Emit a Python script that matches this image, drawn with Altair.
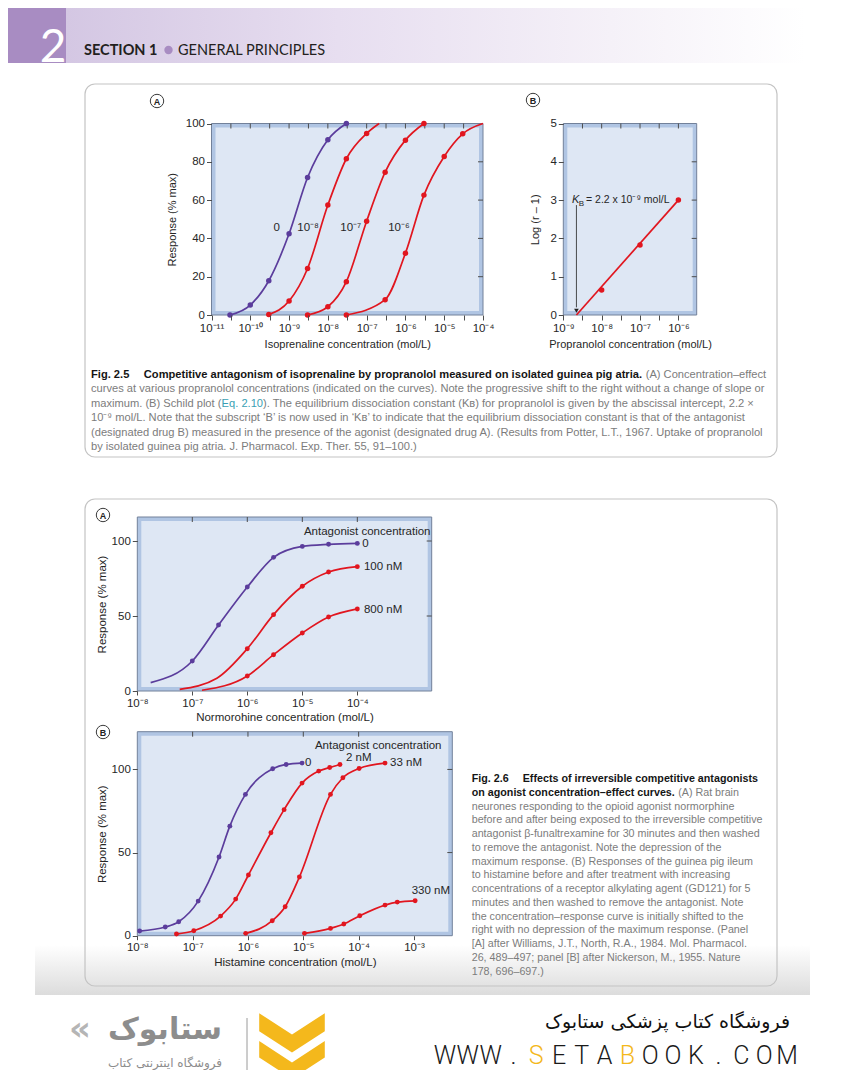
import math
import altair as alt
import pandas as pd

# ------------------------------------------------------------------ canvas
W, H = 828, 1062          # whole drawing (page minus 8px body margin)
OX, OY = 8, 8


def cx(p):
    return round(p - OX, 1)


def cy(p):
    return round(p - OY, 1)


FONT = "Liberation Sans"
PURPLE = "#5b3d9c"
RED = "#e1161f"
BORDER = "#b0c5e3"
FILL = "#dee7f4"
FRAME = "#72819a"
AXC = "#4d4d4d"
TXT = "#262626"
GRAY = "#7c7c7c"
BOLD = "#151515"
TEAL = "#3a9fb4"
GOLD = "#f4b81c"

ONE = pd.DataFrame({"k": [0]})

# ------------------------------------------------------------------ data
# Fig 2.5A  isoprenaline concentration (mol/L) vs response (% max)
f25a_conc_0 = [3e-11, 1e-10, 3e-10, 1e-9, 3e-9, 1e-8, 3e-8]
f25a_resp_0 = [0, 5.2, 17.9, 42.4, 71.8, 91.5, 100]
f25a_conc_8 = [3e-10, 1e-9, 3e-9, 1e-8, 3e-8, 1e-7]
f25a_resp_8 = [0.3, 7.3, 24.3, 57.4, 81.6, 94.8]
f25a_conc_7 = [3e-9, 1e-8, 3e-8, 1e-7, 3e-7, 1e-6, 3e-6]
f25a_resp_7 = [0, 4.3, 17.4, 49.0, 74.6, 91.3, 100]
f25a_conc_6 = [3e-8, 3e-7, 1e-6, 3e-6, 1e-5, 3e-5]
f25a_resp_6 = [0, 8.0, 32.3, 62.6, 82.8, 94.6]
f25a_curve_end_8 = ([2.1e-7], [100])
f25a_curve_end_6 = ([1e-4], [100])
f25a_label_text = ["0", "10⁻⁸", "10⁻⁷", "10⁻⁶"]
f25a_label_conc = [4.8e-10, 3.1e-9, 3.9e-8, 6.8e-7]
f25a_label_resp = [45.2, 45.2, 45.2, 45.2]

# Fig 2.5B  Schild plot
f25b_conc = [1e-8, 1e-7, 1e-6]
f25b_logr = [0.65, 1.83, 3.0]
f25b_kb = 2.2e-9
f25b_fit_conc = [2.2e-9, 1e-6]
f25b_fit_logr = [0, 3.0]

# Fig 2.6A  normorphine
f26a_conc_0 = [1e-7, 3e-7, 1e-6, 3e-6, 1e-5, 3e-5, 1e-4]
f26a_resp_0 = [20, 44, 69.3, 89.1, 96.4, 97.8, 98.4]
f26a_start_0 = ([1.75e-8], [5.6])
f26a_conc_100 = [1e-6, 3e-6, 1e-5, 3e-5, 1e-4]
f26a_resp_100 = [28.2, 50.9, 69.8, 79.3, 82.9]
f26a_start_100 = ([5.9e-8, 2.8e-7], [1.1, 8.5])
f26a_conc_800 = [1e-6, 3e-6, 1e-5, 3e-5, 1e-4]
f26a_resp_800 = [10, 24.2, 38.7, 49.3, 54.7]
f26a_start_800 = ([1.5e-7], [0.5])
f26a_label_text = ["Antagonist concentration", "0", "100 nM", "800 nM"]
f26a_label_conc = [1.07e-5, 1.23e-4, 1.32e-4, 1.32e-4]
f26a_label_resp = [106, 98.2, 82.7, 54.2]

# Fig 2.6B  histamine
f26b_conc_0 = [1.1e-8, 3.2e-8, 5.6e-8, 1.26e-7, 3e-7, 4.7e-7, 9e-7, 2.8e-6, 4.9e-6, 9.5e-6]
f26b_resp_0 = [2.8, 5.2, 8.4, 20.8, 47.3, 65.9, 85, 100.4, 103, 103.8]
f26b_conc_2 = [5.1e-8, 1.05e-7, 3.2e-7, 6e-7, 1.02e-6, 2.6e-6, 4.5e-6, 9.5e-6, 1.9e-5, 3e-5, 4.6e-5]
f26b_resp_2 = [1.0, 3.0, 11.8, 22, 36.5, 61.9, 75.8, 91.8, 99, 101.2, 103]
f26b_conc_33 = [9.1e-7, 2.75e-6, 4.7e-6, 8.5e-6, 3.1e-5, 5.2e-5, 1.02e-4, 3e-4]
f26b_resp_33 = [1.4, 9.0, 17.4, 35.3, 85, 95, 100.6, 103.8]
f26b_conc_330 = [1.05e-5, 3.1e-5, 5.4e-5, 1.05e-4, 3e-4, 5e-4, 1.05e-3]
f26b_resp_330 = [1.4, 4.4, 7.0, 12.0, 18.4, 20.2, 21.0]
f26b_label_text = ["Antagonist concentration", "0", "2 nM", "33 nM", "330 nM"]
f26b_label_conc = [1.62e-5, 1.07e-5, 5.9e-5, 3.7e-4, 9.1e-4]
f26b_label_resp = [114.3, 103.8, 106.9, 103.8, 27.1]

# tick values / tick labels
f25a_xticks = [1e-11, 3.16e-11, 1e-10, 3.16e-10, 1e-9, 3.16e-9, 1e-8, 3.16e-8, 1e-7,
               3.16e-7, 1e-6, 3.16e-6, 1e-5, 3.16e-5, 1e-4]
f25a_xlabels_at = [1e-11, 1e-10, 1e-9, 1e-8, 1e-7, 1e-6, 1e-5, 1e-4]
f25a_xlabels = ["10⁻¹¹", "10⁻¹⁰", "10⁻⁹", "10⁻⁸", "10⁻⁷", "10⁻⁶", "10⁻⁵", "10⁻⁴"]
f25a_yticks = [0, 20, 40, 60, 80, 100]
f25b_xticks = [1e-9, 3.16e-9, 1e-8, 3.16e-8, 1e-7, 3.16e-7, 1e-6]
f25b_xlabels_at = [1e-9, 1e-8, 1e-7, 1e-6]
f25b_xlabels = ["10⁻⁹", "10⁻⁸", "10⁻⁷", "10⁻⁶"]
f25b_yticks = [0, 1, 2, 3, 4, 5]
f26a_xticks = [1e-8, 1e-7, 1e-6, 1e-5, 1e-4]
f26a_xlabels = ["10⁻⁸", "10⁻⁷", "10⁻⁶", "10⁻⁵", "10⁻⁴"]
f26b_xticks = [1e-8, 1e-7, 1e-6, 1e-5, 1e-4, 1e-3]
f26b_xlabels = ["10⁻⁸", "10⁻⁷", "10⁻⁶", "10⁻⁵", "10⁻⁴", "10⁻³"]
f26_yticks = [0, 50, 100]

# ------------------------------------------------------------------ text metrics (Arial/Liberation)
_REG = dict(zip("ABCDEFGHIJKLMNOPQRSTUVWXYZ",
                [667, 667, 722, 722, 667, 611, 778, 722, 278, 500, 667, 556, 833, 722, 778,
                 667, 778, 722, 667, 611, 722, 667, 944, 667, 667, 611]))
_REG.update(zip("abcdefghijklmnopqrstuvwxyz",
                [556, 556, 500, 556, 556, 278, 556, 556, 222, 222, 500, 222, 833, 556, 556,
                 556, 556, 333, 500, 278, 556, 500, 722, 500, 500, 500]))
_BLD = dict(zip("ABCDEFGHIJKLMNOPQRSTUVWXYZ",
                [722, 722, 722, 722, 667, 611, 778, 722, 278, 556, 722, 611, 833, 722, 778,
                 667, 778, 722, 667, 611, 722, 667, 944, 667, 667, 611]))
_BLD.update(zip("abcdefghijklmnopqrstuvwxyz",
                [556, 611, 556, 611, 556, 333, 611, 611, 278, 278, 556, 278, 889, 611, 611,
                 611, 611, 389, 556, 333, 611, 556, 778, 556, 556, 500]))
_PUN = {" ": 278, "(": 333, ")": 333, ".": 278, ",": 278, "-": 333, ":": 278, ";": 278,
        "–": 556, "'": 191, "‘": 222, "’": 222, "[": 278, "]": 278, "×": 584, "/": 278}


def text_em(s, bold=False):
    tab = _BLD if bold else _REG
    tot = 0
    for ch in s:
        if ch.isdigit():
            tot += 556
        else:
            tot += tab.get(ch, _PUN.get(ch, 556))
    return tot / 1000.0


# ------------------------------------------------------------------ helpers
def label_expr(vals, labels):
    parts = [f"abs(log(datum.value)/LN10 - ({math.log10(v):.4f})) < 0.02 ? '{t}'"
             for v, t in zip(vals, labels)]
    return " : ".join(parts) + " : ''"


def make_axis(orient, offset, values, title, fs, tp, lexpr=None, fmt=None, tick=5, lp=2, tfs=None):
    kw = dict(orient=orient, offset=offset, values=values, title=title, grid=False,
              domain=False, tickSize=tick, tickColor=AXC, tickWidth=1,
              labelFont=FONT, labelFontSize=fs, labelColor=TXT, labelPadding=lp,
              labelOverlap=False, labelFlush=False,
              titleFont=FONT, titleFontSize=tfs or fs, titleFontWeight="normal",
              titleColor=TXT, titlePadding=tp, zindex=1)
    if lexpr is not None:
        kw["labelExpr"] = lexpr
    if fmt is not None:
        kw["format"] = fmt
    return alt.Axis(**kw)


def series(name, col, conc, resp):
    return pd.DataFrame({"s": name, "col": col, "c": conc, "r": resp})


def panel(xdom, ydom, xr, yr, xax, yax, curves, points, top_ticks, right_ticks,
          labels, lab_fs, lab_align, pt_size, extra=None):
    XS = alt.Scale(type="log", domain=xdom, range=xr, nice=False)
    YS = alt.Scale(type="linear", domain=ydom, range=yr, nice=False, zero=False)

    def X(f, axis=None):
        return alt.X(f, type="quantitative", scale=XS, axis=axis)

    def Y(f, axis=None):
        return alt.Y(f, type="quantitative", scale=YS, axis=axis)

    outer = alt.Chart(ONE).mark_rect(fill=BORDER, stroke=FRAME, strokeWidth=1).encode(
        x=alt.XDatum(xdom[0], type="quantitative", scale=XS, axis=None),
        x2=alt.X2Datum(xdom[1]),
        y=alt.YDatum(ydom[0], type="quantitative", scale=YS, axis=None),
        y2=alt.Y2Datum(ydom[1]))
    inner = alt.Chart(ONE).mark_rect(fill=FILL, xOffset=4, x2Offset=-4,
                                     yOffset=-4, y2Offset=4).encode(
        x=alt.XDatum(xdom[0], type="quantitative", scale=XS, axis=None),
        x2=alt.X2Datum(xdom[1]),
        y=alt.YDatum(ydom[0], type="quantitative", scale=YS, axis=None),
        y2=alt.Y2Datum(ydom[1]))
    tt = alt.Chart(pd.DataFrame({"t": top_ticks})).mark_rule(color=AXC, strokeWidth=1).encode(
        x=X("t"), y=alt.value(yr[1]), y2=alt.value(yr[1] + 5))
    rt = alt.Chart(pd.DataFrame({"t": right_ticks})).mark_rule(color=AXC, strokeWidth=1).encode(
        y=Y("t"), x=alt.value(xr[1]), x2=alt.value(xr[1] - 5))
    ln = alt.Chart(curves).mark_line(interpolate="monotone", strokeWidth=1.7).encode(
        x=X("c"), y=Y("r"), color=alt.Color("col:N", scale=None), detail="s:N")
    pt = alt.Chart(points).mark_circle(size=pt_size, opacity=1).encode(
        x=X("c", xax), y=Y("r", yax), color=alt.Color("col:N", scale=None))
    lb = alt.Chart(labels).mark_text(font=FONT, fontSize=lab_fs, color=TXT,
                                     align=lab_align, baseline="middle").encode(
        x=X("c"), y=Y("r"), text="t:N")
    layers = [outer, inner, tt, rt, ln]
    if extra is not None:
        layers += extra(X, Y)
    layers += [pt, lb]
    return layers


def texts(rows, **mk):
    df = pd.DataFrame(rows, columns=["t", "x", "y"])
    return alt.Chart(df).mark_text(**mk).encode(
        x=alt.X("x:Q", scale=None, axis=None), y=alt.Y("y:Q", scale=None, axis=None),
        text="t:N")


def prect(x0, y0, x1, y1, **mk):
    return alt.Chart(ONE).mark_rect(**mk).encode(
        x=alt.value(x0), x2=alt.value(x1), y=alt.value(y0), y2=alt.value(y1))


def prule(x0, y0, x1, y1, **mk):
    return alt.Chart(ONE).mark_rule(**mk).encode(
        x=alt.value(x0), x2=alt.value(x1), y=alt.value(y0), y2=alt.value(y1))


def ppoint(x, y, **mk):
    return alt.Chart(ONE).mark_point(**mk).encode(x=alt.value(x), y=alt.value(y))


def circ_label(x, y, letter):
    return [
        alt.Chart(ONE).mark_circle(size=180, fill="white", stroke="#3a3a3a",
                                   strokeWidth=1, opacity=1).encode(
            x=alt.value(cx(x)), y=alt.value(cy(y))),
        texts([(letter, cx(x), cy(y) + 0.5)], font=FONT, fontSize=9, fontWeight="bold",
              color="#222", align="center", baseline="middle"),
    ]


# ------------------------------------------------------------------ Fig 2.5A
X25A, Y25A = [cx(211.5), cx(483)], [cy(315), cy(123.5)]
curves_25a = pd.concat([
    series("0", PURPLE, f25a_conc_0, f25a_resp_0),
    series("1e-8", RED, f25a_conc_8 + f25a_curve_end_8[0], f25a_resp_8 + f25a_curve_end_8[1]),
    series("1e-7", RED, f25a_conc_7, f25a_resp_7),
    series("1e-6", RED, f25a_conc_6 + f25a_curve_end_6[0], f25a_resp_6 + f25a_curve_end_6[1]),
])
points_25a = pd.concat([
    series("0", PURPLE, f25a_conc_0, f25a_resp_0),
    series("1e-8", RED, f25a_conc_8, f25a_resp_8),
    series("1e-7", RED, f25a_conc_7, f25a_resp_7),
    series("1e-6", RED, f25a_conc_6, f25a_resp_6),
])
p25a = panel(
    [1e-11, 1e-4], [0, 100], X25A, Y25A,
    make_axis("bottom", Y25A[0] - H, f25a_xticks, "Isoprenaline concentration (mol/L)", 11.5, 5,
              lexpr=label_expr(f25a_xlabels_at, f25a_xlabels), tfs=11),
    make_axis("left", -X25A[0], f25a_yticks, "Response (% max)", 11.5, 8, fmt="d", tfs=11),
    curves_25a, points_25a, f25a_xticks[1:-1], f25a_yticks[1:-1],
    pd.DataFrame({"t": f25a_label_text, "c": f25a_label_conc, "r": f25a_label_resp}),
    11.5, "center", 30)

# ------------------------------------------------------------------ Fig 2.5B
X25B, Y25B = [cx(563.3), cx(696.7)], [cy(315), cy(123.5)]


def extra_25b(X, Y):
    fit = alt.Chart(series("fit", RED, f25b_fit_conc, f25b_fit_logr)).mark_line(
        strokeWidth=1.7).encode(x=X("c"), y=Y("r"), color=alt.Color("col:N", scale=None))
    arrow = alt.Chart(pd.DataFrame({"c": [f25b_kb], "a": [2.87], "b": [0.2]})).mark_rule(
        color="#222", strokeWidth=0.8).encode(x=X("c"), y=Y("a"), y2="b:Q")
    head = alt.Chart(pd.DataFrame({"c": [f25b_kb], "r": [0.11]})).mark_point(
        shape="triangle-down", filled=True, size=22, color="#222", opacity=1).encode(
        x=X("c"), y=Y("r"))
    return [arrow, head, fit]


p25b = panel(
    [1e-9, 3e-6], [0, 5], X25B, Y25B,
    make_axis("bottom", Y25B[0] - H, f25b_xticks, "Propranolol concentration (mol/L)", 11.5, 5,
              lexpr=label_expr(f25b_xlabels_at, f25b_xlabels), tfs=11),
    make_axis("left", -X25B[0], f25b_yticks, "Log (r – 1)", 11.5, 9, fmt="d", tfs=11),
    series("fit", RED, [], []), series("pts", RED, f25b_conc, f25b_logr),
    f25b_xticks[1:], f25b_yticks[1:-1],
    pd.DataFrame({"t": [], "c": [], "r": []}),
    11, "center", 30, extra=extra_25b)

# ------------------------------------------------------------------ Fig 2.6A
X26A, Y26A = [cx(137.3), cx(431.7)], [cy(691), cy(517)]
curves_26a = pd.concat([
    series("0", PURPLE, f26a_start_0[0] + f26a_conc_0, f26a_start_0[1] + f26a_resp_0),
    series("100", RED, f26a_start_100[0] + f26a_conc_100, f26a_start_100[1] + f26a_resp_100),
    series("800", RED, f26a_start_800[0] + f26a_conc_800, f26a_start_800[1] + f26a_resp_800),
])
points_26a = pd.concat([
    series("0", PURPLE, f26a_conc_0, f26a_resp_0),
    series("100", RED, f26a_conc_100, f26a_resp_100),
    series("800", RED, f26a_conc_800, f26a_resp_800),
])
p26a = panel(
    [1e-8, 2.25e-3], [0, 116], X26A, Y26A,
    make_axis("bottom", Y26A[0] - H, f26a_xticks, "Normorohine concentration (mol/L)", 11.5, 3,
              lexpr=label_expr(f26a_xticks, f26a_xlabels), tick=4),
    make_axis("left", -X26A[0], f26_yticks, "Response (% max)", 11.5, 4, fmt="d"),
    curves_26a, points_26a, f26a_xticks[1:], f26_yticks[1:],
    pd.DataFrame({"t": f26a_label_text, "c": f26a_label_conc, "r": f26a_label_resp}),
    11.5, "left", 24)

# ------------------------------------------------------------------ Fig 2.6B
X26B, Y26B = [cx(137.3), cx(452.3)], [cy(935.7), cy(731.7)]
curves_26b = pd.concat([
    series("0", PURPLE, f26b_conc_0, f26b_resp_0),
    series("2", RED, f26b_conc_2, f26b_resp_2),
    series("33", RED, f26b_conc_33, f26b_resp_33),
    series("330", RED, f26b_conc_330, f26b_resp_330),
])
p26b = panel(
    [1e-8, 4.93e-3], [0, 122.7], X26B, Y26B,
    make_axis("bottom", Y26B[0] - H, f26b_xticks, "Histamine concentration (mol/L)", 11.5, 3,
              lexpr=label_expr(f26b_xticks, f26b_xlabels), tick=4),
    make_axis("left", -X26B[0], f26_yticks, "Response (% max)", 11.5, 4, fmt="d"),
    curves_26b, curves_26b, f26b_xticks[1:5], f26_yticks[1:],
    pd.DataFrame({"t": f26b_label_text, "c": f26b_label_conc, "r": f26b_label_resp}),
    11.5, "left", 24)

# ------------------------------------------------------------------ captions
cap25_fig = "Fig. 2.5"
cap25_title = "Competitive antagonism of isoprenaline by propranolol measured on isolated guinea pig atria."
cap25_lines = [
    "(A) Concentration–effect",
    "curves at various propranolol concentrations (indicated on the curves). Note the progressive shift to the right without a change of slope or",
    "maximum. (B) Schild plot (",
    "10⁻⁹ mol/L. Note that the subscript ‘B’ is now used in ‘Kʙ’ to indicate that the equilibrium dissociation constant is that of the antagonist",
    "(designated drug B) measured in the presence of the agonist (designated drug A). (Results from Potter, L.T., 1967. Uptake of propranolol",
    "by isolated guinea pig atria. J. Pharmacol. Exp. Ther. 55, 91–100.)",
]
cap25_eq = "Eq. 2.10"
cap25_after_eq = "). The equilibrium dissociation constant (Kʙ) for propranolol is given by the abscissal intercept, 2.2 ×"

cap26_fig = "Fig. 2.6"
cap26_title1 = "Effects of irreversible competitive antagonists"
cap26_title2 = "on agonist concentration–effect curves."
cap26_lines = [
    "(A) Rat brain",
    "neurones responding to the opioid agonist normorphine",
    "before and after being exposed to the irreversible competitive",
    "antagonist β-funaltrexamine for 30 minutes and then washed",
    "to remove the antagonist. Note the depression of the",
    "maximum response. (B) Responses of the guinea pig ileum",
    "to histamine before and after treatment with increasing",
    "concentrations of a receptor alkylating agent (GD121) for 5",
    "minutes and then washed to remove the antagonist. Note",
    "the concentration–response curve is initially shifted to the",
    "right with no depression of the maximum response. (Panel",
    "[A] after Williams, J.T., North, R.A., 1984. Mol. Pharmacol.",
    "26, 489–497; panel [B] after Nickerson, M., 1955. Nature",
    "178, 696–697.)",
]

# layout of the caption blocks
L25, R25 = 91.0, 765.0
L26, R26 = 471.7, 763.0
FS25 = (R25 - L25) / text_em(cap25_lines[1])
FS26 = (R26 - L26) / text_em(cap26_lines[2])
y25 = [375 + 14.4 * i for i in range(6)]
y26 = [779 + 13.76 * i for i in range(15)]
SP25 = text_em(" ") * FS25
SP26 = text_em(" ") * FS26

t25_x = L25 + text_em(cap25_fig, True) * FS25 + 1.3 * FS25
a25_x = t25_x + text_em(cap25_title, True) * FS25 + SP25
eq_x = L25 + text_em(cap25_lines[2]) * FS25
aft_x = eq_x + text_em(cap25_eq) * FS25
t26_x = L26 + text_em(cap26_fig, True) * FS26 + 1.3 * FS26
a26_x = L26 + text_em(cap26_title2, True) * FS26 + SP26

cap_bold_rows25 = [(cap25_fig, cx(L25), cy(y25[0])), (cap25_title, cx(t25_x), cy(y25[0]))]
cap_gray_rows25 = [(cap25_lines[0], cx(a25_x), cy(y25[0]))] + \
    [(t, cx(L25), cy(y25[i + 1])) for i, t in enumerate(cap25_lines[1:])] + \
    [(cap25_after_eq, cx(aft_x), cy(y25[2]))]
cap_teal_rows25 = [(cap25_eq, cx(eq_x), cy(y25[2]))]
cap_bold_rows26 = [(cap26_fig, cx(L26), cy(y26[0])), (cap26_title1, cx(t26_x), cy(y26[0])),
                   (cap26_title2, cx(L26), cy(y26[1]))]
cap_gray_rows26 = [(cap26_lines[0], cx(a26_x), cy(y26[1]))] + \
    [(t, cx(L26), cy(y26[i + 2])) for i, t in enumerate(cap26_lines[1:])]

captions = [
    texts(cap_bold_rows25, font=FONT, fontSize=FS25, fontWeight="bold", color=BOLD,
          align="left", baseline="middle"),
    texts(cap_gray_rows25, font=FONT, fontSize=FS25, color=GRAY, align="left", baseline="middle"),
    texts(cap_teal_rows25, font=FONT, fontSize=FS25, color=TEAL, align="left", baseline="middle"),
    texts(cap_bold_rows26, font=FONT, fontSize=FS26, fontWeight="bold", color=BOLD,
          align="left", baseline="middle"),
    texts(cap_gray_rows26, font=FONT, fontSize=FS26, color=GRAY, align="left", baseline="middle"),
]

# ------------------------------------------------------------------ page decorations
header_grad = alt.LinearGradient(
    gradient="linear", x1=0, x2=1, y1=0, y2=0,
    stops=[alt.GradientStop(color="#d4c7e3", offset=0),
           alt.GradientStop(color="#e7def0", offset=0.35),
           alt.GradientStop(color="#f5f1f8", offset=0.7),
           alt.GradientStop(color="#ffffff", offset=0.95)])
shadow_grad = alt.LinearGradient(
    gradient="linear", x1=0, x2=0, y1=0, y2=1,
    stops=[alt.GradientStop(color="#ffffff", offset=0),
           alt.GradientStop(color="#dcdcdc", offset=1)])

back = [
    prect(cx(8), cy(8), cx(66), cy(63), fill="#a88cc2"),
    prect(cx(66), cy(8), cx(844), cy(63), fill=header_grad),
    prect(cx(35), cy(945), cx(810), cy(995), fill=shadow_grad),
    prect(cx(85), cy(84), cx(777), cy(457), fillOpacity=0,
          stroke="#c4c4c4", strokeWidth=1.2, cornerRadius=10),
    prect(cx(85), cy(499), cx(777), cy(986), fillOpacity=0,
          stroke="#c4c4c4", strokeWidth=1.2, cornerRadius=10),
]

header = [
    texts([("2", cx(53), cy(62))], font="Lato", fontSize=46, color="white",
          align="center", baseline="alphabetic"),
    texts([("SECTION 1", cx(84), cy(55))], font="Lato", fontSize=14.5, fontWeight="bold",
          color="#231f20", align="left", baseline="alphabetic"),
    alt.Chart(ONE).mark_circle(size=70, color="#a88cc2", opacity=1).encode(
        x=alt.value(cx(168.5)), y=alt.value(cy(50))),
    texts([("GENERAL PRINCIPLES", cx(178), cy(55))], font="Lato", fontSize=14.5,
          color="#231f20", align="left", baseline="alphabetic"),
]

kb_annot = [
    texts([("K", cx(572), cy(200))], font=FONT, fontSize=11, fontStyle="italic",
          color=TXT, align="left", baseline="middle"),
    texts([("B", cx(578.8), cy(203.5))], font=FONT, fontSize=8, color=TXT,
          align="left", baseline="middle"),
    texts([("= 2.2 x 10⁻⁹ mol/L", cx(586), cy(200))], font=FONT, fontSize=10.5,
          color=TXT, align="left", baseline="middle"),
]

labels_abcd = (circ_label(157, 101, "A") + circ_label(533, 100, "B")
               + circ_label(103, 515, "A") + circ_label(103, 732, "B"))

# footer
site_chars = list("WWW.SETABOOK.COM")
site_gold = [4, 8]
site_x = [445 + 22.8 * i for i in range(len(site_chars))]
site_df = pd.DataFrame({"t": site_chars, "x": [cx(v) for v in site_x],
                        "y": [cy(1056)] * len(site_chars),
                        "g": ["gold" if i in site_gold else "dark" for i in range(len(site_chars))]})
chevron = ("M-1,-1 L0,-0.35 L1,-1 L1,-0.45 L0,0.2 L-1,-0.45 Z "
           "M-1,-0.15 L0,0.5 L1,-0.15 L1,0.35 L0,1 L-1,0.35 Z")
footer = [
    texts([("فروشگاه کتاب پزشکی ستابوک", cx(790), cy(1022))], font="DejaVu Sans",
          fontSize=19, color="#111", align="right", baseline="middle"),
    alt.Chart(site_df).mark_text(font="Roboto", fontSize=25, fontWeight=300,
                                 align="center", baseline="middle").encode(
        x=alt.X("x:Q", scale=None, axis=None), y=alt.Y("y:Q", scale=None, axis=None),
        text="t:N",
        color=alt.Color("g:N", scale=alt.Scale(domain=["gold", "dark"], range=[GOLD, "#1a1a1a"]),
                        legend=None)),
    ppoint(cx(292), cy(1046), shape=chevron, size=4300, filled=True, color=GOLD, opacity=1),
    prule(cx(247), cy(1018), cx(247), cy(1072), color="#9a9a9a", strokeWidth=1),
    texts([("ستابوک", cx(165), cy(1030))], font="DejaVu Sans", fontSize=30, fontWeight="bold",
          color="#8d8d8d", align="center", baseline="middle"),
    texts([("«", cx(80), cy(1030))], font="DejaVu Sans", fontSize=34, fontWeight="bold",
          color="#b5b5b5", align="center", baseline="middle"),
    texts([("فروشگاه اینترنتی کتاب", cx(165), cy(1063))], font="DejaVu Sans", fontSize=12,
          color="#8d8d8d", align="center", baseline="middle"),
]

chart = alt.layer(
    *back, *header, *p25a, *p25b, *p26a, *p26b, *kb_annot, *labels_abcd, *captions, *footer
).resolve_scale(
    x="independent", y="independent", color="independent"
).properties(
    width=W, height=H, autosize=alt.AutoSizeParams(type="none"), padding=0,
    background="white"
).configure_view(stroke=None)

chart.save("out.html", embed_options={"renderer": "svg", "actions": False})
